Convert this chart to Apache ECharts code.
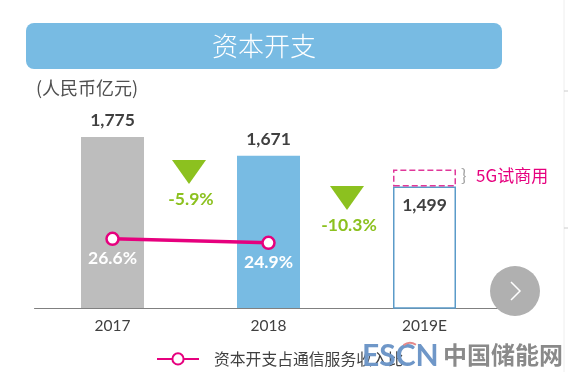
<!DOCTYPE html>
<html>
<head>
<meta charset="utf-8">
<script src="https://cdn.jsdelivr.net/npm/echarts@6/dist/echarts.min.js"></script>
<style>
html, body { margin: 0; padding: 0; background: #fff; }
#chart { width: 568px; height: 372px; }
</style>
</head>
<body>
<div id="chart"></div>
<script>
const years = ['2017', '2018', '2019E'];
const capex = [1775, 1671, 1499];
const trial5g = [null, null, 95]; // no number printed, estimated from the dashed box
const capexShare = [26.6, 24.9, null];
const changes = ['-5.9%', '-10.3%'];

const latin = 'Lato, "Noto Sans CJK SC", sans-serif';
const cjk = '"Noto Sans CJK SC", sans-serif';
const dark = '#404040';
const pink = '#e6007e';
const green = '#8cc11f';
const blue = '#78bbe3';

const chart = echarts.init(document.getElementById('chart'));

// drop arrow with its percent below, sits between two bars
function changeMark(x, top, text) {
    return [
        { type: 'polygon', shape: { points: [[x - 17, top], [x + 17, top], [x, top + 24]] }, style: { fill: green } },
        { type: 'text', x: x + 2, y: top + 39, style: { text: text, fill: green, font: 'bold 17.5px ' + latin, align: 'center', verticalAlign: 'middle' } }
    ];
}

chart.setOption({
    animation: false,
    grid: { left: 34.5, right: 65.5, top: 100, bottom: 64 },
    legend: {
        left: 151,
        top: 346,
        itemWidth: 42,
        itemHeight: 14,
        data: ['资本开支占通信服务收入比'],
        textStyle: { color: dark, fontFamily: cjk, fontSize: 15.8, padding: [0, 0, 0, 10] }
    },
    xAxis: {
        type: 'category',
        data: years,
        axisTick: { show: false },
        axisLine: { onZero: false, lineStyle: { color: '#808080', width: 1 } },
        axisLabel: { color: dark, fontFamily: latin, fontSize: 15.5, margin: 10 }
    },
    yAxis: [
        { type: 'value', min: 825, max: 1980, show: false },
        { type: 'value', min: -3, max: 86, show: false }
    ],
    series: [
        {
            name: '资本开支',
            type: 'bar',
            stack: 'capex',
            barWidth: 63,
            data: [
                { value: capex[0], itemStyle: { color: '#bdbdbd' } },
                { value: capex[1], itemStyle: { color: blue } },
                {
                    value: capex[2],
                    itemStyle: { color: '#fff', borderColor: '#5b9bc9', borderWidth: 1.5 },
                    label: { position: 'insideTop', distance: 10 }
                }
            ],
            label: {
                show: true,
                position: 'top',
                distance: 8,
                color: dark,
                fontFamily: latin,
                fontWeight: 'bold',
                fontSize: 17.5,
                formatter: p => p.value.toLocaleString('en-US')
            }
        },
        {
            name: '5G试商用',
            type: 'bar',
            stack: 'capex',
            barWidth: 63,
            data: trial5g,
            itemStyle: { color: '#fff', borderColor: '#e0389a', borderWidth: 1.5, borderType: 'dashed' }
        },
        {
            name: '资本开支占通信服务收入比',
            type: 'line',
            yAxisIndex: 1,
            data: capexShare,
            symbol: 'circle',
            symbolSize: 12,
            lineStyle: { color: pink, width: 3.5 },
            itemStyle: { color: '#fff', borderColor: pink, borderWidth: 2.5 },
            label: {
                show: true,
                position: 'bottom',
                distance: 4,
                color: '#fff',
                fontFamily: latin,
                fontWeight: 'bold',
                fontSize: 17.5,
                formatter: p => p.value + '%'
            }
        }
    ],
    graphic: [
        { type: 'rect', shape: { x: 26, y: 23, width: 476, height: 46, r: 8 }, style: { fill: blue } },
        { type: 'text', x: 264, y: 46, style: { text: '资本开支', fill: '#fff', font: '300 26px ' + cjk, align: 'center', verticalAlign: 'middle' } },
        { type: 'text', x: 36, y: 88, style: { text: '(人民币亿元)', fill: '#505050', font: '18px ' + cjk, verticalAlign: 'middle' } },
        ...changeMark(189, 160, changes[0]),
        ...changeMark(347, 186, changes[1]),
        { type: 'text', x: 461, y: 176, style: { text: '}', fill: '#a6a6a6', font: '18px ' + latin, verticalAlign: 'middle' } },
        { type: 'text', x: 476, y: 176, style: { text: '5G试商用', fill: pink, font: '17px ' + cjk, verticalAlign: 'middle' } },
        { type: 'circle', z: 10, shape: { cx: 515, cy: 291, r: 25 }, style: { fill: '#b0b0b0' } },
        { type: 'polyline', z: 11, shape: { points: [[511, 282], [520, 291], [511, 300]] }, style: { stroke: '#fff', lineWidth: 1.5, fill: null } },
        { type: 'line', shape: { x1: 564, y1: 0, x2: 564, y2: 372 }, style: { stroke: '#eeeeee', lineWidth: 1 } },
        { type: 'line', shape: { x1: 564, y1: 91, x2: 568, y2: 91 }, style: { stroke: '#cccccc', lineWidth: 1 } },
        { type: 'line', shape: { x1: 564, y1: 228, x2: 568, y2: 228 }, style: { stroke: '#cccccc', lineWidth: 1 } },
        { type: 'text', z: 12, x: 362, y: 356, style: { text: 'ESCN', fill: '#6f97c8', font: 'bold 30px ' + latin, verticalAlign: 'middle' } },
        { type: 'arc', z: 13, shape: { cx: 410, cy: 354, r: 11, startAngle: -2.2, endAngle: -1.0 }, style: { stroke: '#e58a8a', lineWidth: 2, fill: null } },
        { type: 'text', z: 12, x: 443, y: 355, style: { text: '中国储能网', fill: '#8a8a8a', font: 'bold 24px ' + cjk, verticalAlign: 'middle' } }
    ]
});
</script>
</body>
</html>
